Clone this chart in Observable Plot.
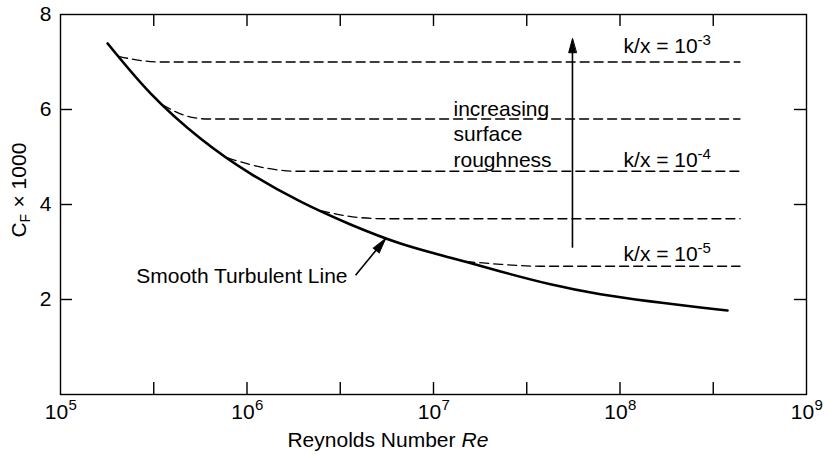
<!DOCTYPE html>
<html><head><meta charset="utf-8">
<script src="https://cdn.jsdelivr.net/npm/d3@7"></script>
<script src="https://cdn.jsdelivr.net/npm/@observablehq/plot@0.6"></script>
<style>
html,body{margin:0;padding:0;background:#fff;}
#chart svg{display:block;}
</style></head><body><div id="chart"></div>
<script>
// Smooth turbulent line (Re, CF x 1000)
const smoothRe = [1.79e5, 3.04e5, 5.63e5, 1.044e6, 1.94e6, 3.59e6, 6.65e6, 1.234e7, 2.29e7, 4.24e7, 7.86e7, 1.457e8, 2.70e8, 3.77e8];
const smoothCf = [7.39, 6.34, 5.39, 4.65, 4.06, 3.58, 3.18, 2.88, 2.59, 2.32, 2.11, 1.96, 1.83, 1.77];

// Rough-surface curves (dashed)
const roughRe = [
  [2.05e5, 2.59e5, 3.4e5, 4.4e8],
  [3.52e5, 4.98e5, 6.2e5, 4.4e8],
  [7.85e5, 1.29e6, 1.8e6, 4.4e8],
  [2.48e6, 3.9e6, 5.5e6, 4.4e8],
  [1.49e7, 2.3e7, 3.7e7, 4.4e8]
];
const roughCf = [
  [7.12, 7.04, 7.0, 7.0],
  [6.10, 5.84, 5.8, 5.8],
  [4.98, 4.76, 4.7, 4.7],
  [3.87, 3.73, 3.7, 3.7],
  [2.80, 2.74, 2.7, 2.7]
];

// Ticks
const xLabelExp = [5, 6, 7, 8, 9];
const xTickExp = [5.5, 6, 6.5, 7, 7.5, 8, 8.5];
const yTicks = [2, 4, 6, 8];

// Annotations
const kxRe = [1.045e8, 1.045e8, 1.045e8];
const kxCf = [7.18, 4.78, 2.82];
const kxExp = ["-3", "-4", "-5"];
const roughTextRe = [1.28e7];
const roughTextCf = [5.50];
const roughText = ["increasing\nsurface\nroughness"];
const roughArrowRe = [5.56e7];
const roughArrowCf1 = [3.09];
const roughArrowCf2 = [7.49];
const smoothLabel = ["Smooth Turbulent Line"];
const smoothLabelRe = [3.46e6];
const smoothLabelCf = [2.48];
const smoothArrowRe1 = [3.82e6], smoothArrowCf1 = [2.51];
const smoothArrowRe2 = [5.53e6], smoothArrowCf2 = [3.28];

const smooth = smoothRe.map((r, i) => ({re: r, cf: smoothCf[i]}));
const rough = roughRe.flatMap((rs, k) => rs.map((r, i) => ({k, re: r, cf: roughCf[k][i]})));

const headShape = {
  draw(ctx, l) {
    ctx.moveTo(0, -l);
    ctx.lineTo(-3.8, 0);
    ctx.lineTo(3.8, 0);
    ctx.closePath();
  }
};

const font = "'Liberation Sans', Arial, Helvetica, sans-serif";
const chart = Plot.plot({
  width: 824, height: 455,
  marginLeft: 60, marginRight: 18, marginTop: 14, marginBottom: 61,
  style: {fontFamily: font, fontSize: "21px", background: "#fff", color: "#000", overflow: "visible"},
  x: {type: "log", domain: [1e5, 1e9], axis: null},
  y: {domain: [0, 8], axis: null},
  marks: [
    Plot.frame({stroke: "#000", strokeWidth: 1.4}),
    // inward ticks
    Plot.tickX(xTickExp, {x: d => 10 ** d, insetTop: 368, stroke: "#000", strokeWidth: 1.4}),
    Plot.tickX(xTickExp, {x: d => 10 ** d, insetBottom: 368, stroke: "#000", strokeWidth: 1.4}),
    Plot.tickY(yTicks.slice(0, 3), {y: d => d, insetRight: 734, stroke: "#000", strokeWidth: 1.4}),
    Plot.tickY(yTicks.slice(0, 3), {y: d => d, insetLeft: 734, stroke: "#000", strokeWidth: 1.4}),
    // y tick labels
    Plot.text(yTicks, {y: d => d, frameAnchor: "left", dx: -9, textAnchor: "end", lineAnchor: "middle", text: d => String(d), fontSize: 21}),
    // x tick labels 10^n
    Plot.text(xLabelExp, {x: d => 10 ** d, frameAnchor: "bottom", dy: 24, dx: -4, textAnchor: "middle", lineAnchor: "bottom", text: () => "10", fontSize: 21}),
    Plot.text(xLabelExp, {x: d => 10 ** d, frameAnchor: "bottom", dy: 15, dx: 8, textAnchor: "start", lineAnchor: "bottom", text: d => String(d), fontSize: 15}),
    // axis titles
    Plot.text(["Reynolds Number"], {frameAnchor: "bottom", dx: 22, dy: 52, textAnchor: "end", lineAnchor: "bottom", text: d => d, fontSize: 21}),
    Plot.text(["Re"], {frameAnchor: "bottom", dx: 28, dy: 52, textAnchor: "start", lineAnchor: "bottom", text: d => d, fontStyle: "italic", fontSize: 21}),
    Plot.text(["C"], {frameAnchor: "left", dx: -35, dy: 33, rotate: -90, textAnchor: "start", lineAnchor: "bottom", text: d => d, fontSize: 21}),
    Plot.text(["F"], {frameAnchor: "left", dx: -31, dy: 18, rotate: -90, textAnchor: "start", lineAnchor: "bottom", text: d => d, fontSize: 14}),
    Plot.text(["× 1000"], {frameAnchor: "left", dx: -35, dy: 3, rotate: -90, textAnchor: "start", lineAnchor: "bottom", text: d => d, fontSize: 21}),
    // rough curves
    Plot.line(rough, {x: "re", y: "cf", z: "k", curve: "monotone-x", stroke: "#000", strokeWidth: 1.3, strokeDasharray: "9,5"}),
    // smooth curve
    Plot.line(smooth, {x: "re", y: "cf", curve: "natural", stroke: "#000", strokeWidth: 2.6}),
    // k/x labels
    Plot.text(kxCf, {x: (d, i) => kxRe[i], y: d => d, textAnchor: "start", lineAnchor: "bottom", text: () => "k/x = 10", fontSize: 21}),
    Plot.text(kxCf, {x: (d, i) => kxRe[i], y: d => d, dx: 74, dy: -8, textAnchor: "start", lineAnchor: "bottom", text: (d, i) => kxExp[i], fontSize: 15}),
    // increasing roughness
    Plot.text(roughText, {x: (d, i) => roughTextRe[i], y: (d, i) => roughTextCf[i], text: d => d, textAnchor: "start", lineAnchor: "middle", lineHeight: 1.2, fontSize: 21}),
    Plot.link(roughArrowRe, {x1: d => d, x2: d => d, y1: (d, i) => roughArrowCf1[i], y2: (d, i) => roughArrowCf2[i] - 0.2, stroke: "#000", strokeWidth: 1.6}),
    Plot.vector(roughArrowRe, {x: d => d, y: (d, i) => roughArrowCf2[i], length: 14, rotate: 0, anchor: "end", shape: headShape, fill: "#000", stroke: "#000", strokeWidth: 1}),
    // smooth label + arrow
    Plot.text(smoothLabel, {x: (d, i) => smoothLabelRe[i], y: (d, i) => smoothLabelCf[i], text: d => d, textAnchor: "end", lineAnchor: "middle", fontSize: 21}),
    Plot.link(smoothArrowRe1, {x1: d => d, y1: (d, i) => smoothArrowCf1[i], x2: (d, i) => smoothArrowRe2[i], y2: (d, i) => smoothArrowCf2[i], stroke: "#000", strokeWidth: 1.6}),
    Plot.vector(smoothArrowRe2, {x: d => d, y: (d, i) => smoothArrowCf2[i], length: 15, rotate: 38, anchor: "end", shape: headShape, fill: "#000", stroke: "#000", strokeWidth: 1})
  ]
});
document.getElementById("chart").append(chart);
</script>
</body></html>
